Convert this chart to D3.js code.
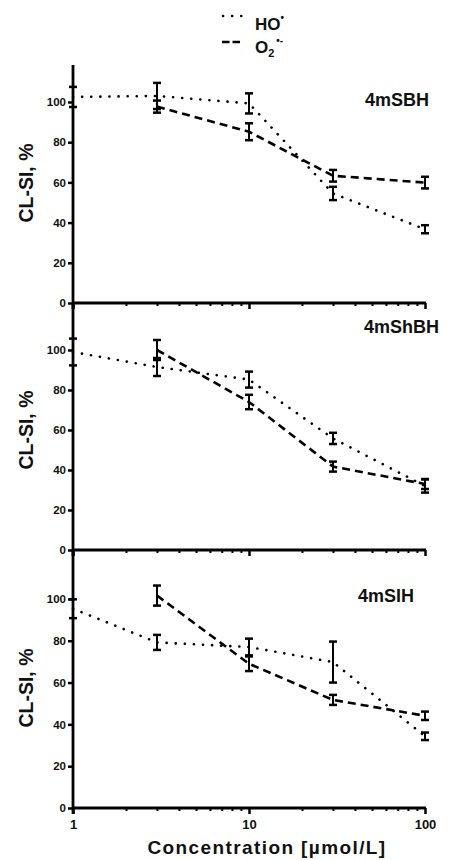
<!DOCTYPE html>
<html>
<head>
<meta charset="utf-8">
<script src="https://cdn.jsdelivr.net/npm/d3@7"></script>
<style>
  body { margin: 0; background: #fff; }
  text { font-family: "Liberation Sans", Arial, sans-serif; fill: #111; }
</style>
</head>
<body>
<svg id="chart" width="455" height="860"></svg>
<script>
// concentrations (umol/L)
var conc = [1, 3, 10, 30, 100];
var concO2 = [3, 10, 30, 100];

var panelNames = ["4mSBH", "4mShBH", "4mSIH"];

// HO· series, mean and error, one row per panel
var hoMean = [
  [102.5, 103, 99.3, 54.5, 36.7],
  [99, 91.5, 85.2, 55.8, 32],
  [95.3, 79.2, 77, 69.8, 34.3]
];
var hoErr = [
  [5, 6.5, 5, 3.3, 2],
  [6.7, 4.5, 4, 2.8, 3.3],
  [4.5, 3.6, 4, 9.8, 1.8]
];

// O2·- series (starts at 3 umol/L)
var o2Mean = [
  [97.7, 85.2, 63.3, 59.9],
  [100, 74, 41.7, 33],
  [101.6, 69, 51.7, 44.1]
];
var o2Err = [
  [3, 4.2, 2.9, 2.9],
  [5, 3.6, 2.5, 2.5],
  [4.8, 3.5, 2.4, 2]
];

var yTicks = [0, 20, 40, 60, 80, 100];
var xMajor = [1, 10, 100];
var xMinor = [2, 3, 4, 5, 6, 7, 8, 9, 20, 30, 40, 50, 60, 70, 80, 90];

var svg = d3.select("#chart");

// panel frames in pixels
var panels = [
  {top: 65, bottom: 303, yMax: 118.4, labelX: 365, labelY: 106},
  {top: 303, bottom: 550, yMax: 123.5, labelX: 364, labelY: 333},
  {top: 550, bottom: 808, yMax: 123.4, labelX: 358, labelY: 602}
];

var x = d3.scaleLog().domain([1, 100]).range([73, 425]);

var dotStyle = "0.1,9";
var dashStyle = "8,5";

panels.forEach(function(p, i) {
  var y = d3.scaleLinear().domain([0, p.yMax]).range([p.bottom, p.top]);
  var g = svg.append("g");

  // y axis
  var ya = g.append("g").attr("transform", "translate(73,0)")
    .call(d3.axisLeft(y).tickValues(yTicks).tickSize(5).tickPadding(2).tickSizeOuter(0));
  ya.select(".domain").remove();
  ya.selectAll(".tick line").attr("stroke", "#000").attr("stroke-width", 2.5);
  ya.selectAll(".tick text")
    .style("font-size", "11.5px").style("font-weight", "bold")
    .attr("fill", "#222");

  g.append("line")
    .attr("x1", 73).attr("x2", 73)
    .attr("y1", p.top).attr("y2", p.bottom + 6)
    .attr("stroke", "#000").attr("stroke-width", 2.8);

  // x axis: minor and major ticks
  var xMin = g.append("g").attr("transform", "translate(0," + p.bottom + ")")
    .call(d3.axisBottom(x).tickValues(xMinor).tickSize(3).tickFormat(""));
  xMin.select(".domain").remove();
  xMin.selectAll(".tick line").attr("stroke", "#000").attr("stroke-width", 2);

  var xMaj = g.append("g").attr("transform", "translate(0," + p.bottom + ")")
    .call(d3.axisBottom(x).tickValues(xMajor).tickSize(6).tickPadding(6)
      .tickFormat(i == 2 ? d3.format("d") : ""));
  xMaj.select(".domain").remove();
  xMaj.selectAll(".tick line").attr("stroke", "#000").attr("stroke-width", 2.5);
  xMaj.selectAll(".tick text")
    .style("font-size", "13px").style("font-weight", "bold").attr("fill", "#222");

  g.append("line")
    .attr("x1", 73).attr("x2", 426)
    .attr("y1", p.bottom).attr("y2", p.bottom)
    .attr("stroke", "#000").attr("stroke-width", 2.8);

  // y axis title
  g.append("text")
    .attr("transform", "translate(33," + (p.bottom - 120) + ") rotate(-90)")
    .attr("text-anchor", "middle")
    .style("font-size", "19.5px").style("font-weight", "bold")
    .text("CL-SI, %");

  // panel name
  g.append("text")
    .attr("x", p.labelX).attr("y", p.labelY)
    .style("font-size", "18px").style("font-weight", "bold")
    .text(panelNames[i]);

  var line = d3.line().x(function(d) { return x(d[0]); }).y(function(d) { return y(d[1]); });

  var hoPts = conc.map(function(c, k) { return [c, hoMean[i][k], hoErr[i][k]]; });
  var o2Pts = concO2.map(function(c, k) { return [c, o2Mean[i][k], o2Err[i][k]]; });

  g.append("path").datum(hoPts)
    .attr("d", line).attr("fill", "none")
    .attr("stroke", "#000").attr("stroke-width", 2.6)
    .attr("stroke-linecap", "round").attr("stroke-dasharray", dotStyle);

  g.append("path").datum(o2Pts)
    .attr("d", line).attr("fill", "none")
    .attr("stroke", "#000").attr("stroke-width", 2.6)
    .attr("stroke-dasharray", dashStyle);

  // error bars
  var allPts = hoPts.concat(o2Pts);
  var eb = g.append("g").selectAll("g").data(allPts).enter().append("g");
  eb.append("line")
    .attr("x1", function(d) { return x(d[0]); })
    .attr("x2", function(d) { return x(d[0]); })
    .attr("y1", function(d) { return y(d[1] + d[2]); })
    .attr("y2", function(d) { return y(d[1] - d[2]); })
    .attr("stroke", "#000").attr("stroke-width", 2);
  [1, -1].forEach(function(s) {
    eb.append("line")
      .attr("x1", function(d) { return x(d[0]) - 4; })
      .attr("x2", function(d) { return x(d[0]) + 4; })
      .attr("y1", function(d) { return y(d[1] + s * d[2]); })
      .attr("y2", function(d) { return y(d[1] + s * d[2]); })
      .attr("stroke", "#000").attr("stroke-width", 2.5);
  });
});

// x axis title
svg.append("text")
  .attr("x", 267).attr("y", 854)
  .attr("text-anchor", "middle")
  .style("font-size", "19px").style("font-weight", "bold")
  .style("letter-spacing", "1.4px")
  .text("Concentration [\u00b5mol/L]");

// legend
var lg = svg.append("g");
lg.append("line").attr("x1", 223).attr("x2", 241.5).attr("y1", 16).attr("y2", 16)
  .attr("stroke", "#000").attr("stroke-width", 2.6)
  .attr("stroke-linecap", "round").attr("stroke-dasharray", dotStyle);
lg.append("line").attr("x1", 222).attr("x2", 241).attr("y1", 42).attr("y2", 42)
  .attr("stroke", "#000").attr("stroke-width", 2.6)
  .attr("stroke-dasharray", "7.5,3");

var t1 = lg.append("text").attr("x", 255).attr("y", 30)
  .style("font-size", "17px").style("font-weight", "bold");
t1.append("tspan").text("HO");
t1.append("tspan").attr("dy", -9).style("font-size", "10px").text("\u2022");

var t2 = lg.append("text").attr("x", 255).attr("y", 53)
  .style("font-size", "17px").style("font-weight", "bold");
t2.append("tspan").text("O");
t2.append("tspan").attr("dy", 4).style("font-size", "11px").text("2");
t2.append("tspan").attr("dy", -13).attr("dx", 2).style("font-size", "10px").text("\u2022-");
</script>
</body>
</html>
